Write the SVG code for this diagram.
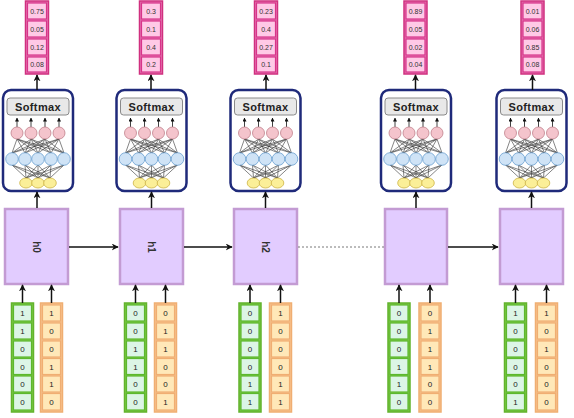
<svg xmlns="http://www.w3.org/2000/svg" width="574" height="418" viewBox="0 0 574 418">
<style>
text{font-family:"Liberation Sans",Arial,sans-serif;}
.pout{fill:#e678b4;stroke:#d0307f;stroke-width:1.5}
.pcell{fill:#ffc9e6;stroke:#d8348a;stroke-width:1.2}
.ptxt{font-size:7px;fill:#333;text-anchor:middle}
.sbox{fill:#fff;stroke:#1f2a7a;stroke-width:2.5}
.slab{fill:#e8e8e8;stroke:#8a8a8a;stroke-width:1}
.stxt{font-size:11px;font-weight:bold;fill:#222;text-anchor:middle;letter-spacing:0.4px}
.pk{fill:#f4c4cc;stroke:#c0808c;stroke-width:0.8}
.bl{fill:#cfe3f6;stroke:#6a9fd0;stroke-width:0.8}
.yl{fill:#fbef98;stroke:#cdb445;stroke-width:0.8}
.net{stroke:#333;stroke-width:0.6}
.hbox{fill:#e2ccff;stroke:#c39bd3;stroke-width:2.5}
.htxt{font-size:10px;font-weight:bold;fill:#333;text-anchor:middle}
.gout{fill:#7cc846;stroke:#62b32c;stroke-width:1.5}
.gcell{fill:#dcf5e6;stroke:#5cb82e;stroke-width:1.2}
.oout{fill:#f6c28e;stroke:#f0ae72;stroke-width:1.5}
.ocell{fill:#ffe8b8;stroke:#f0ae72;stroke-width:1.2}
.btxt{font-size:8px;fill:#222;text-anchor:middle}
.arr{stroke:#111;stroke-width:1.5;fill:none;marker-end:url(#ah)}
</style>
<defs>
<marker id="ah" viewBox="0 0 10 10" refX="9" refY="5" markerWidth="7" markerHeight="7" markerUnits="userSpaceOnUse" orient="auto"><path d="M0,0 L10,5 L0,10 L3,5 z" fill="#111"/></marker>
<marker id="sah" viewBox="0 0 10 10" refX="9" refY="5" markerWidth="4" markerHeight="4" markerUnits="userSpaceOnUse" orient="auto"><path d="M0,0 L10,5 L0,10 z" fill="#111"/></marker>
<g id="netshape">
<rect class="sbox" x="-35" y="90" width="70" height="101" rx="8"/>
<rect class="slab" x="-31" y="98" width="62" height="17" rx="3"/>
<text class="stxt" x="0" y="110.5">Softmax</text>
<g stroke="#111" stroke-width="0.8" marker-end="url(#sah)">
<line x1="-21" y1="127" x2="-21" y2="118"/><line x1="-7" y1="127" x2="-7" y2="118"/><line x1="7" y1="127" x2="7" y2="118"/><line x1="21" y1="127" x2="21" y2="118"/>
</g>
<g class="net">
<path d="M-21,139L-26,153M-21,139L-13,153M-21,139L0,153M-21,139L13,153M-21,139L26,153M-7,139L-26,153M-7,139L-13,153M-7,139L0,153M-7,139L13,153M-7,139L26,153M7,139L-26,153M7,139L-13,153M7,139L0,153M7,139L13,153M7,139L26,153M21,139L-26,153M21,139L-13,153M21,139L0,153M21,139L13,153M21,139L26,153"/>
<path d="M-26,165L-12,178M-26,165L0,178M-26,165L12,178M-13,165L-12,178M-13,165L0,178M-13,165L12,178M0,165L-12,178M0,165L0,178M0,165L12,178M13,165L-12,178M13,165L0,178M13,165L12,178M26,165L-12,178M26,165L0,178M26,165L12,178"/>
</g>
<circle class="pk" cx="-21" cy="133" r="6"/><circle class="pk" cx="-7" cy="133" r="6"/><circle class="pk" cx="7" cy="133" r="6"/><circle class="pk" cx="21" cy="133" r="6"/>
<circle class="bl" cx="-26" cy="159" r="6.3"/><circle class="bl" cx="-13" cy="159" r="6.3"/><circle class="bl" cx="0" cy="159" r="6.3"/><circle class="bl" cx="13" cy="159" r="6.3"/><circle class="bl" cx="26" cy="159" r="6.3"/>
<ellipse class="yl" cx="-12" cy="183" rx="6.3" ry="5"/><ellipse class="yl" cx="0" cy="183" rx="6.3" ry="5"/><ellipse class="yl" cx="12" cy="183" rx="6.3" ry="5"/>
</g>
<g id="pvec">
<rect class="pout" x="-11.5" y="1" width="23" height="73"/>
<rect class="pcell" x="-9.5" y="3" width="19" height="16"/>
<rect class="pcell" x="-9.5" y="21" width="19" height="16"/>
<rect class="pcell" x="-9.5" y="39" width="19" height="16"/>
<rect class="pcell" x="-9.5" y="57" width="19" height="15"/>
</g>
<g id="gvec">
<rect class="gout" x="-11" y="303" width="22" height="109"/>
<rect class="gcell" x="-9" y="305" width="18" height="16"/>
<rect class="gcell" x="-9" y="323" width="18" height="16"/>
<rect class="gcell" x="-9" y="341" width="18" height="16"/>
<rect class="gcell" x="-9" y="358.5" width="18" height="16"/>
<rect class="gcell" x="-9" y="376" width="18" height="16"/>
<rect class="gcell" x="-9" y="393.5" width="18" height="16.5"/>
</g>
<g id="ovec">
<rect class="oout" x="-11" y="303" width="22" height="109"/>
<rect class="ocell" x="-9" y="305" width="18" height="16"/>
<rect class="ocell" x="-9" y="323" width="18" height="16"/>
<rect class="ocell" x="-9" y="341" width="18" height="16"/>
<rect class="ocell" x="-9" y="358.5" width="18" height="16"/>
<rect class="ocell" x="-9" y="376" width="18" height="16"/>
<rect class="ocell" x="-9" y="393.5" width="18" height="16.5"/>
</g>
</defs>

<!-- Column 1 -->
<g id="out0" transform="translate(37,0)"><use href="#pvec"/>
<text class="ptxt" y="13.5">0.75</text><text class="ptxt" y="31.5">0.05</text><text class="ptxt" y="49.5">0.12</text><text class="ptxt" y="67">0.08</text></g>
<g id="softmax0" transform="translate(38,0)"><use href="#netshape"/></g>
<g id="h0" transform="translate(36.5,0)"><rect class="hbox" x="-31.5" y="209" width="63" height="75"/><text class="htxt" transform="translate(0,247) rotate(90)" y="3.5">h0</text></g>
<g id="xa0" transform="translate(22.5,0)"><use href="#gvec"/>
<text class="btxt" y="316">1</text><text class="btxt" y="334">1</text><text class="btxt" y="352">0</text><text class="btxt" y="369.5">0</text><text class="btxt" y="387">0</text><text class="btxt" y="404.5">0</text></g>
<g id="xb0" transform="translate(51.5,0)"><use href="#ovec"/>
<text class="btxt" y="316">1</text><text class="btxt" y="334">0</text><text class="btxt" y="352">0</text><text class="btxt" y="369.5">1</text><text class="btxt" y="387">1</text><text class="btxt" y="404.5">0</text></g>

<!-- Column 2 -->
<g id="out1" transform="translate(151,0)"><use href="#pvec"/>
<text class="ptxt" y="13.5">0.3</text><text class="ptxt" y="31.5">0.1</text><text class="ptxt" y="49.5">0.4</text><text class="ptxt" y="67">0.2</text></g>
<g id="softmax1" transform="translate(151.5,0)"><use href="#netshape"/></g>
<g id="h1" transform="translate(151.5,0)"><rect class="hbox" x="-31.5" y="209" width="63" height="75"/><text class="htxt" transform="translate(0,247) rotate(90)" y="3.5">h1</text></g>
<g id="xa1" transform="translate(135.5,0)"><use href="#gvec"/>
<text class="btxt" y="316">0</text><text class="btxt" y="334">0</text><text class="btxt" y="352">1</text><text class="btxt" y="369.5">1</text><text class="btxt" y="387">0</text><text class="btxt" y="404.5">0</text></g>
<g id="xb1" transform="translate(165.5,0)"><use href="#ovec"/>
<text class="btxt" y="316">0</text><text class="btxt" y="334">1</text><text class="btxt" y="352">1</text><text class="btxt" y="369.5">0</text><text class="btxt" y="387">0</text><text class="btxt" y="404.5">1</text></g>

<!-- Column 3 -->
<g id="out2" transform="translate(266,0)"><use href="#pvec"/>
<text class="ptxt" y="13.5">0.23</text><text class="ptxt" y="31.5">0.4</text><text class="ptxt" y="49.5">0.27</text><text class="ptxt" y="67">0.1</text></g>
<g id="softmax2" transform="translate(265.5,0)"><use href="#netshape"/></g>
<g id="h2" transform="translate(265.5,0)"><rect class="hbox" x="-31.5" y="209" width="63" height="75"/><text class="htxt" transform="translate(0,247) rotate(90)" y="3.5">h2</text></g>
<g id="xa2" transform="translate(250,0)"><use href="#gvec"/>
<text class="btxt" y="316">0</text><text class="btxt" y="334">0</text><text class="btxt" y="352">0</text><text class="btxt" y="369.5">0</text><text class="btxt" y="387">1</text><text class="btxt" y="404.5">1</text></g>
<g id="xb2" transform="translate(280.5,0)"><use href="#ovec"/>
<text class="btxt" y="316">1</text><text class="btxt" y="334">0</text><text class="btxt" y="352">0</text><text class="btxt" y="369.5">0</text><text class="btxt" y="387">1</text><text class="btxt" y="404.5">1</text></g>

<!-- Column 4 -->
<g id="out3" transform="translate(415.5,0)"><use href="#pvec"/>
<text class="ptxt" y="13.5">0.89</text><text class="ptxt" y="31.5">0.05</text><text class="ptxt" y="49.5">0.02</text><text class="ptxt" y="67">0.04</text></g>
<g id="softmax3" transform="translate(416,0)"><use href="#netshape"/></g>
<g id="h3" transform="translate(416,0)"><rect class="hbox" x="-31" y="209" width="62" height="75"/></g>
<g id="xa3" transform="translate(399,0)"><use href="#gvec"/>
<text class="btxt" y="316">0</text><text class="btxt" y="334">0</text><text class="btxt" y="352">0</text><text class="btxt" y="369.5">1</text><text class="btxt" y="387">1</text><text class="btxt" y="404.5">0</text></g>
<g id="xb3" transform="translate(430,0)"><use href="#ovec"/>
<text class="btxt" y="316">0</text><text class="btxt" y="334">1</text><text class="btxt" y="352">1</text><text class="btxt" y="369.5">1</text><text class="btxt" y="387">0</text><text class="btxt" y="404.5">0</text></g>

<!-- Column 5 -->
<g id="out4" transform="translate(532.5,0)"><use href="#pvec"/>
<text class="ptxt" y="13.5">0.01</text><text class="ptxt" y="31.5">0.06</text><text class="ptxt" y="49.5">0.85</text><text class="ptxt" y="67">0.08</text></g>
<g id="softmax4" transform="translate(531.5,0)"><use href="#netshape"/></g>
<g id="h4" transform="translate(531.5,0)"><rect class="hbox" x="-31.5" y="209" width="63" height="75"/></g>
<g id="xa4" transform="translate(515.5,0)"><use href="#gvec"/>
<text class="btxt" y="316">1</text><text class="btxt" y="334">0</text><text class="btxt" y="352">0</text><text class="btxt" y="369.5">0</text><text class="btxt" y="387">0</text><text class="btxt" y="404.5">1</text></g>
<g id="xb4" transform="translate(546.5,0)"><use href="#ovec"/>
<text class="btxt" y="316">1</text><text class="btxt" y="334">0</text><text class="btxt" y="352">1</text><text class="btxt" y="369.5">0</text><text class="btxt" y="387">0</text><text class="btxt" y="404.5">0</text></g>

<g id="connectors">
<!-- softmax to outputs -->
<line class="arr" x1="37" y1="90" x2="37" y2="75"/>
<line class="arr" x1="151" y1="90" x2="151" y2="75"/>
<line class="arr" x1="266" y1="90" x2="266" y2="75"/>
<line class="arr" x1="415.5" y1="90" x2="415.5" y2="75"/>
<line class="arr" x1="532.5" y1="90" x2="532.5" y2="75"/>
<!-- hidden to softmax -->
<line class="arr" x1="37" y1="208" x2="37" y2="192"/>
<line class="arr" x1="151.5" y1="208" x2="151.5" y2="192"/>
<line class="arr" x1="265.5" y1="208" x2="265.5" y2="192"/>
<line class="arr" x1="416" y1="208" x2="416" y2="192"/>
<line class="arr" x1="531.5" y1="208" x2="531.5" y2="192"/>
<!-- recurrent -->
<line class="arr" x1="69" y1="247" x2="118" y2="247"/>
<line class="arr" x1="184" y1="247" x2="232" y2="247"/>
<line x1="298" y1="247" x2="384" y2="247" stroke="#555" stroke-width="0.8" stroke-dasharray="2,2"/>
<line class="arr" x1="448" y1="247" x2="498" y2="247"/>
<!-- inputs -->
<line class="arr" x1="22.5" y1="303" x2="22.5" y2="285"/>
<line class="arr" x1="51.5" y1="303" x2="51.5" y2="285"/>
<line class="arr" x1="135.5" y1="303" x2="135.5" y2="285"/>
<line class="arr" x1="165.5" y1="303" x2="165.5" y2="285"/>
<line class="arr" x1="250" y1="303" x2="250" y2="285"/>
<line class="arr" x1="280.5" y1="303" x2="280.5" y2="285"/>
<line class="arr" x1="399" y1="303" x2="399" y2="285"/>
<line class="arr" x1="430" y1="303" x2="430" y2="285"/>
<line class="arr" x1="515.5" y1="303" x2="515.5" y2="285"/>
<line class="arr" x1="546.5" y1="303" x2="546.5" y2="285"/>
</g>
</svg>
